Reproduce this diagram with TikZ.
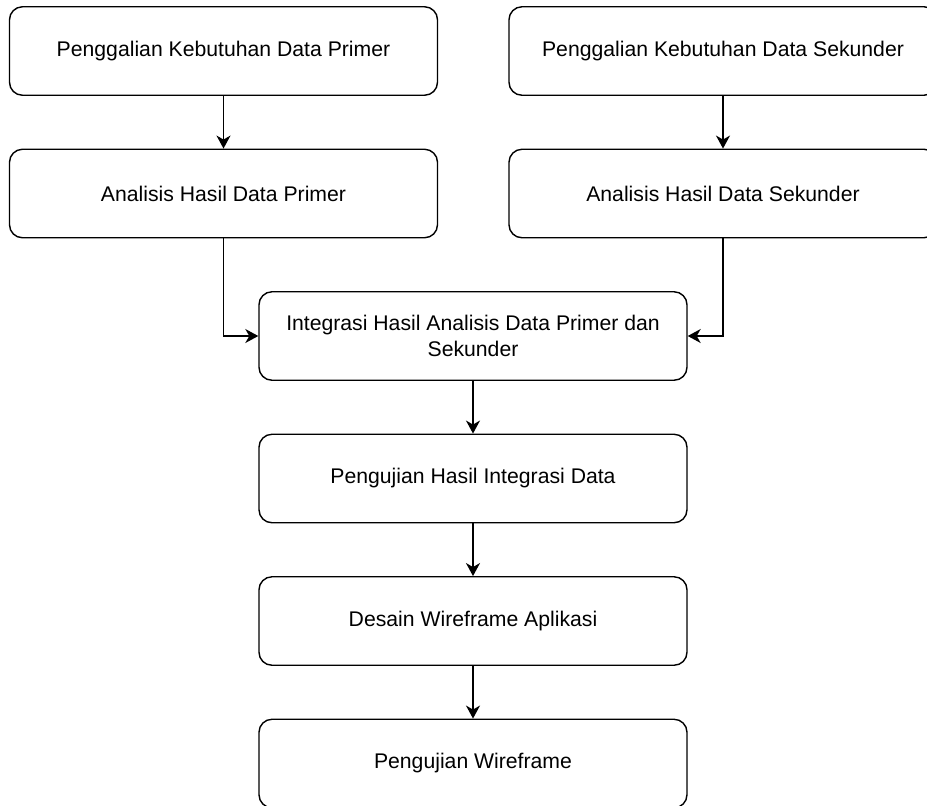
\documentclass[tikz,border=0pt]{standalone}
\usepackage{fontspec}
\setmainfont{Liberation Sans}
\usetikzlibrary{arrows.meta}

\begin{document}
\begin{tikzpicture}[
  x=0.5pt, y=-0.5pt,
  every node/.style={inner sep=1pt},
  stage/.style={draw, line width=0.7pt, rounded corners=6.5pt, fill=white,
    minimum width=214pt, minimum height=44.25pt, align=center,
    font=\fontsize{10.6}{12.85}\selectfont},
  flow/.style={draw, line width=0.7pt,
    -{Stealth[length=6.5pt, width=7pt, inset=2pt]}}]

  \useasboundingbox (0,0) rectangle (927,805);

  % ---- the primary branch -------------------------------------------------
  \node[stage] (galiprimer) at (223.5,51)  {Penggalian Kebutuhan Data Primer};
  \node[stage] (anaprimer)  at (223.5,193.5) {Analisis Hasil Data Primer};

  % ---- the secondary branch -----------------------------------------------
  \node[stage] (galisekunder) at (723,51)  {Penggalian Kebutuhan Data Sekunder};
  \node[stage] (anasekunder)  at (723,193.5) {Analisis Hasil Data Sekunder};

  % ---- the joined column --------------------------------------------------
  \node[stage] (integrasi) at (473,336)
    {Integrasi Hasil Analisis Data Primer dan\\Sekunder};
  \node[stage] (ujiintegrasi) at (473,478.5) {Pengujian Hasil Integrasi Data};
  \node[stage] (wireframe)    at (473,621)   {Desain Wireframe Aplikasi};
  \node[stage] (ujiwireframe) at (473,763.5) {Pengujian Wireframe};

  % ---- connectors ---------------------------------------------------------
  \draw[flow] (galiprimer.south) -- (anaprimer.north);
  \draw[flow] (galisekunder.south) -- (anasekunder.north);
  \draw[flow] (anaprimer.south) |- (integrasi.west);
  \draw[flow] (anasekunder.south) |- (integrasi.east);
  \draw[flow] (integrasi.south) -- (ujiintegrasi.north);
  \draw[flow] (ujiintegrasi.south) -- (wireframe.north);
  \draw[flow] (wireframe.south) -- (ujiwireframe.north);
\end{tikzpicture}
\end{document}
